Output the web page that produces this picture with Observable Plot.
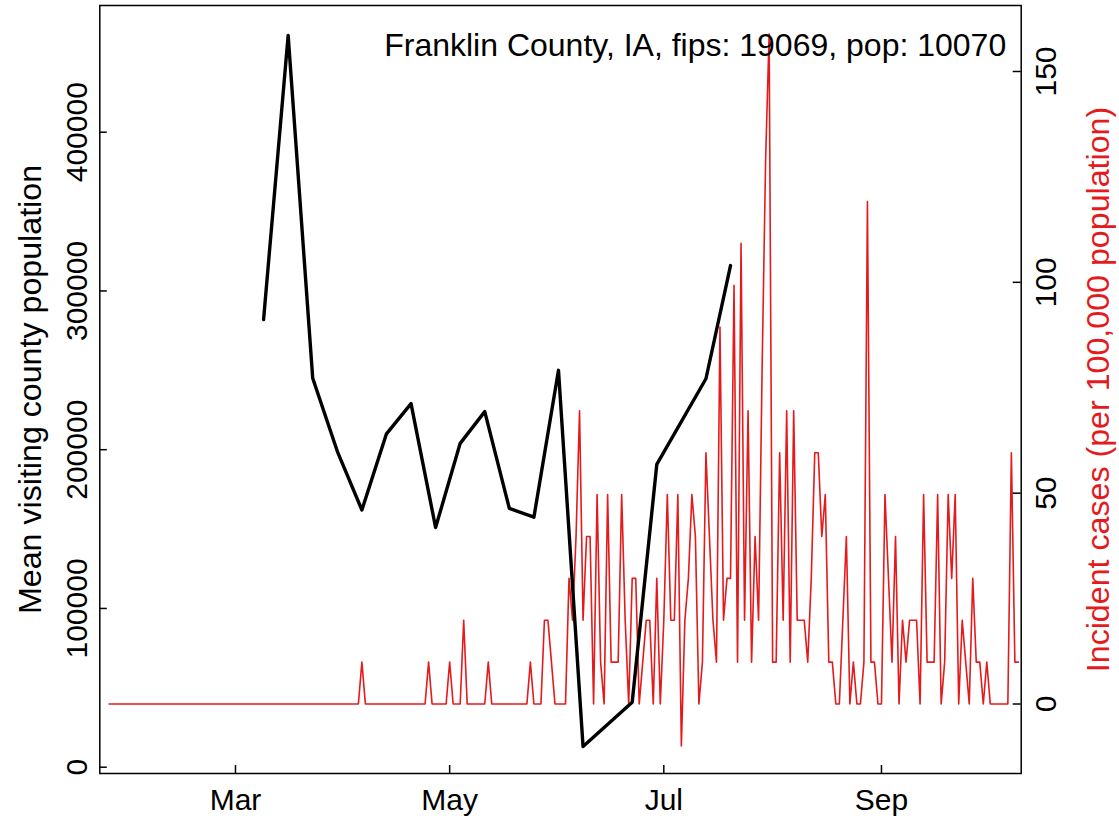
<!DOCTYPE html>
<html><head><meta charset="utf-8">
<script src="https://cdn.jsdelivr.net/npm/d3@7"></script>
<script src="https://cdn.jsdelivr.net/npm/@observablehq/plot@0.6"></script>
<style>body{margin:0;background:#fff}</style>
</head><body><div id="chart"></div>
<script>
const titleText = "Franklin County, IA, fips: 19069, pop: 10070";
const leftLabel = "Mean visiting county population";
const rightLabel = "Incident cases (per 100,000 population)";
const population = 10070;

// weekly mean visiting county population
const visitDates = ["2020-03-09","2020-03-16","2020-03-23","2020-03-30","2020-04-06","2020-04-13","2020-04-20","2020-04-27","2020-05-04","2020-05-11","2020-05-18","2020-05-25","2020-06-01","2020-06-08","2020-06-22","2020-06-29","2020-07-13","2020-07-20"];
const visitValues = [282000,461000,245000,199000,162000,210000,229000,151000,204000,224000,163000,157500,250000,13000,40900,190700,244700,316000];

// daily new cases (count), starting at caseStart
const caseStart = "2020-01-25";
const dailyCases = [
  0,0,0,0,0,0,0,0,0,0,0,0,0,0,0,0,0,0,0,0,0,0,0,0,0,0,0,0,0,0,0,0,0,0,0,0,
  0,0,0,0,0,0,0,0,0,0,0,0,0,0,0,0,0,0,0,0,0,0,0,0,0,0,0,0,0,0,0,0,0,0,0,0,
  1,0,0,0,0,0,0,0,0,0,0,0,0,0,0,0,0,0,0,1,0,0,0,0,0,1,0,0,0,2,0,0,0,0,0,0,
  1,0,0,0,0,0,0,0,0,0,0,0,1,0,0,0,2,2,1,0,0,0,0,3,2,4,7,2,4,4,0,5,1,0,5,1,
  1,1,5,2,0,3,3,0,1,2,2,0,3,0,2,5,2,2,5,-1,2,3,5,4,0,1,6,4,2,1,9,2,3,3,10,1,
  11,2,7,1,4,2,8,13,16,1,1,6,2,7,1,7,2,2,2,1,3,6,6,4,5,1,1,0,0,2,4,0,1,0,0,1,
  12,1,1,0,0,5,3,1,4,0,2,1,2,2,2,0,5,1,1,1,5,0,1,5,3,5,0,2,1,0,3,1,1,0,1,0,
  0,0,0,0,0,6,1,1
];

const xTickDates = ["2020-03-01","2020-05-01","2020-07-01","2020-09-01"];
const xTickLabels = ["Mar","May","Jul","Sep"];
const leftTicks = [0,100000,200000,300000,400000];
const rightTicks = [0,50,100,150];

// layout
const W = 1119, H = 822;
const mL = 99.3, mR = 98.3, mT = 5, mB = 49;
const plotW = W - mL - mR, plotH = H - mT - mB;
const day = 864e5;
const xDomain = [new Date(Date.UTC(2020,0,22) + 0.35*day), new Date(Date.UTC(2020,9,10) + 0.8*day)];
const lDomain = [-3969, 479811];
const rDomain = [-16.48, 165.65];
const toLeft = r => lDomain[0] + (r - rDomain[0]) * (lDomain[1]-lDomain[0]) / (rDomain[1]-rDomain[0]);
const toRight = l => rDomain[0] + (l - lDomain[0]) * (rDomain[1]-rDomain[0]) / (lDomain[1]-lDomain[0]);

const red = "#e41a1c";

const visits = visitDates.map((d,i) => ({date: new Date(d), value: visitValues[i]}));
const s = new Date(caseStart);
const cases = dailyCases.map((c,i) => ({date: new Date(Date.UTC(s.getUTCFullYear(), s.getUTCMonth(), s.getUTCDate()+i)), rate: c/population*1e5}));
const xTicks = xTickDates.map(d => new Date(d));
const labelOf = d => xTickLabels[xTicks.findIndex(t => +t === +d)];

const chart = Plot.plot({
  width: W, height: H,
  marginLeft: mL, marginRight: mR, marginTop: mT, marginBottom: mB,
  style: {fontFamily: "'Liberation Sans', Arial, sans-serif", fontSize: "30px", background: "#fff", color: "#000"},
  x: {type: "utc", domain: xDomain},
  y: {domain: lDomain},
  marks: [
    Plot.line(cases, {x: "date", y: d => toLeft(d.rate), stroke: red, strokeWidth: 1.6, clip: true}),
    Plot.line(visits, {x: "date", y: "value", stroke: "#000", strokeWidth: 3.4, clip: true}),
    Plot.frame({stroke: "#000", strokeWidth: 1.5}),
    Plot.tickY(leftTicks, {y: d => d, insetRight: plotW - 7.5, stroke: "#000", strokeWidth: 1.5}),
    Plot.tickY(rightTicks, {y: d => toLeft(d), insetLeft: plotW - 8, stroke: "#000", strokeWidth: 1.5}),
    Plot.tickX(xTicks, {x: d => d, insetTop: plotH - 8, stroke: "#000", strokeWidth: 1.5}),
    Plot.axisY({anchor: "left", ticks: leftTicks, tickSize: 0, tickRotate: -90, tickPadding: 13, tickFormat: d => String(d), label: null}),
    Plot.axisY({anchor: "right", ticks: rightTicks.map(toLeft), tickSize: 0, tickRotate: -90, lineAnchor: "top", tickPadding: 13, tickFormat: d => String(Math.round(toRight(d))), label: null}),
    Plot.axisX({ticks: xTicks, tickSize: 0, tickPadding: 15, tickFormat: labelOf, label: null}),
    Plot.text([leftLabel], {frameAnchor: "left", textAnchor: "middle", lineAnchor: "middle", rotate: -90, dx: -69, fontSize: 32.2, fill: "#000"}),
    Plot.text([rightLabel], {frameAnchor: "right", textAnchor: "middle", lineAnchor: "middle", rotate: -90, dx: 77, fontSize: 32.2, fill: red}),
    Plot.text([titleText], {frameAnchor: "top-right", textAnchor: "end", lineAnchor: "top", dx: -15, dy: 28, fontSize: 32, fill: "#000"})
  ]
});
document.getElementById("chart").appendChild(chart);
</script>
</body></html>
